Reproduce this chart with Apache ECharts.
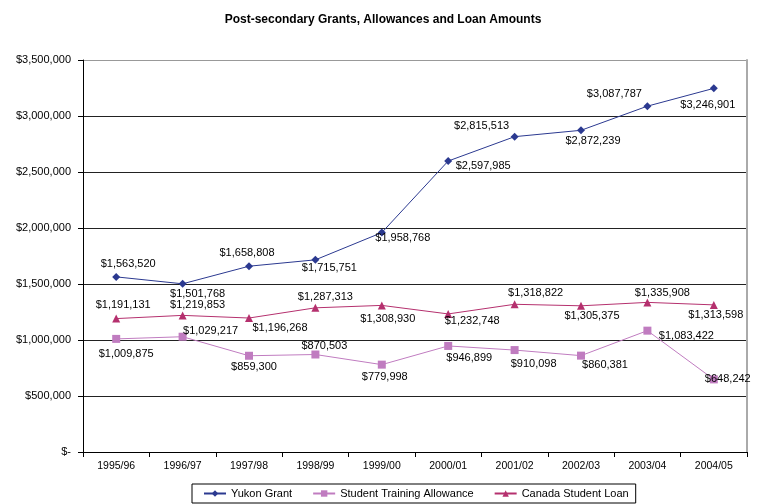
<!DOCTYPE html>
<html>
<head>
<meta charset="utf-8">
<script src="https://cdn.jsdelivr.net/npm/echarts@6/dist/echarts.min.js"></script>
<style>html,body{margin:0;padding:0;background:#fff;}#c{width:764px;height:504px;}</style>
</head>
<body>
<div id="c"></div>
<script>
var categories = ['1995/96','1996/97','1997/98','1998/99','1999/00','2000/01','2001/02','2002/03','2003/04','2004/05'];
var yukonGrant = [1563520,1501768,1658808,1715751,1958768,2597985,2815513,2872239,3087787,3246901];
var studentTrainingAllowance = [1009875,1029217,859300,870503,779998,946899,910098,860381,1083422,648242];
var canadaStudentLoan = [1191131,1219853,1196268,1287313,1308930,1232748,1318822,1305375,1335908,1313598];

// label placement (layout only)
var yukonOffsets = [[12,-13],[15,10],[-2,-13],[14,8],[21,5],[35,5],[-33,-11],[12,11],[-33,-12],[-6,17]];
var staOffsets = [[10,15],[28,-6],[5,11],[9,-9],[3,12],[21,12],[19,14],[24,9],[39,5],[14,0]];
var cslOffsets = [[7,-14],[15,-10],[31,10],[10,-11],[6,14],[24,7],[21,-11],[11,10],[15,-9],[2,10]];

function money(v){ return v === 0 ? '$-' : '$' + v.toLocaleString('en-US'); }
function withLabels(values, offsets){
  return values.map(function(v,i){ return {value: v, label: {offset: offsets[i]}}; });
}
var font = 'Arial, "Liberation Sans", sans-serif';
var chart = echarts.init(document.getElementById('c'));
function series(name, values, offsets, color, symbol, size){
  return {
    name: name, type: 'line', data: withLabels(values, offsets),
    symbol: symbol, symbolSize: size,
    lineStyle: {color: color, width: 1}, itemStyle: {color: color},
    label: {show: true, position: 'inside', color: '#000', fontSize: 11, fontFamily: font,
      formatter: function(p){ return money(p.value); }},
    emphasis: {disabled: true}, animation: false, z: 3
  };
}
chart.setOption({
  animation: false,
  title: {text: 'Post-secondary Grants, Allowances and Loan Amounts', left: 378, textAlign: 'center', top: 9,
    textStyle: {fontSize: 12, fontWeight: 'bold', color: '#000', fontFamily: font}},
  grid: {left: 83, right: 17, top: 60, bottom: 52},
  legend: {left: 192, top: 484, padding: [4, 7, 4, 11], itemGap: 20, itemWidth: 22, itemHeight: 8,
    borderColor: '#000', borderWidth: 1, textStyle: {fontSize: 11, color: '#000', fontFamily: font},
    data: ['Yukon Grant','Student Training Allowance','Canada Student Loan']},
  xAxis: {type: 'category', data: categories, boundaryGap: true,
    axisLine: {lineStyle: {color: '#000', width: 1}},
    axisTick: {show: true, length: 5, lineStyle: {color: '#000'}},
    axisLabel: {fontSize: 10.5, color: '#000', fontFamily: font, margin: 9}},
  yAxis: [{type: 'value', min: 0, max: 3500000, interval: 500000,
    axisLine: {show: true, lineStyle: {color: '#000'}},
    axisTick: {show: true, length: 5, lineStyle: {color: '#000'}},
    axisLabel: {fontSize: 11, color: '#000', fontFamily: font, margin: 12, formatter: money},
    splitLine: {show: true, lineStyle: {color: ['#000','#222','#222','#222','#222','#222','#222','#999'], width: 1}}},
    {type: 'value', position: 'right', min: 0, max: 3500000, interval: 500000,
    axisLine: {show: true, lineStyle: {color: '#aaa', width: 2}}, axisTick: {show: false}, axisLabel: {show: false}, splitLine: {show: false}}],
  series: [
    series('Yukon Grant', yukonGrant, yukonOffsets, '#2b3990', 'diamond', 8),
    series('Student Training Allowance', studentTrainingAllowance, staOffsets, '#c07cc0', 'rect', 8),
    series('Canada Student Loan', canadaStudentLoan, cslOffsets, '#b5306e', 'triangle', 8)
  ]
});
</script>
</body>
</html>
